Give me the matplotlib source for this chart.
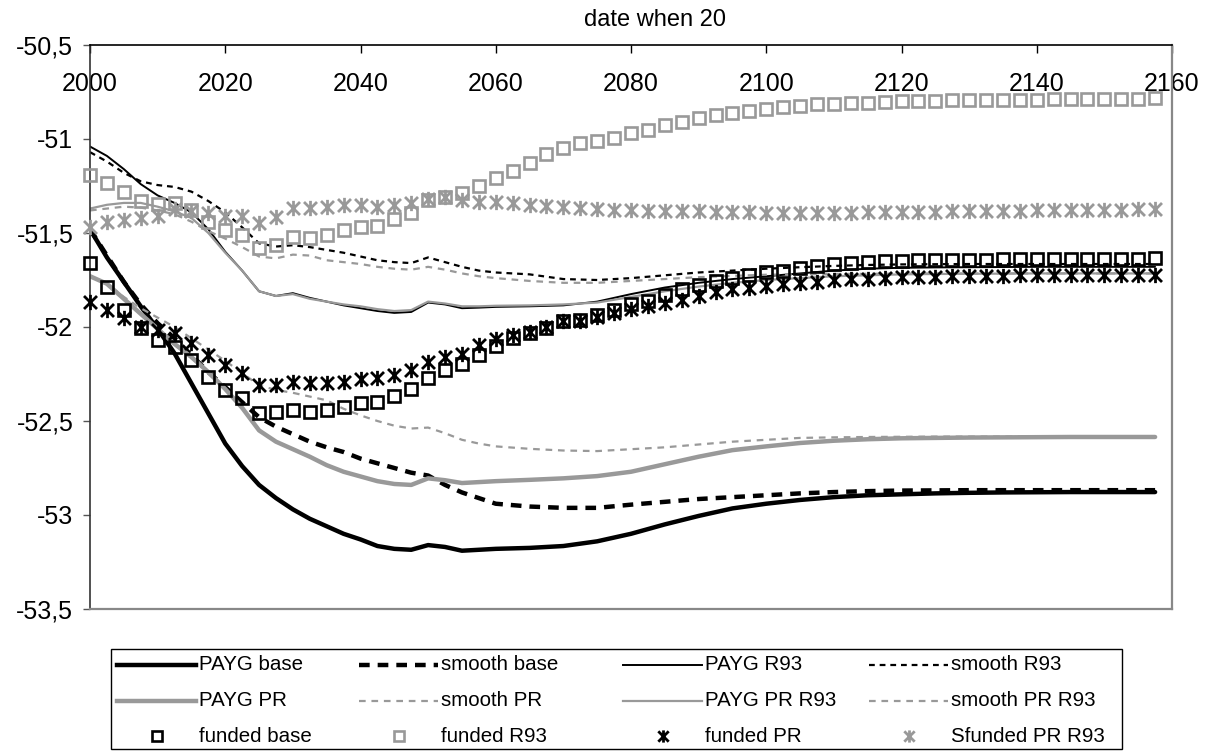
import numpy as np
import matplotlib
matplotlib.use("Agg")
import matplotlib.pyplot as plt
from matplotlib.path import Path
from matplotlib.lines import Line2D
from matplotlib.patches import Rectangle
from matplotlib.ticker import FuncFormatter

plt.rcParams['font.family'] = ['Liberation Sans', 'DejaVu Sans']

# ---------------- data ----------------
line_years = [2000, 2002.5, 2005, 2007.5, 2010, 2012.5, 2015, 2017.5,
              2020, 2022.5, 2025, 2027.5, 2030, 2032.5, 2035, 2037.5,
              2040, 2042.5, 2045, 2047.5, 2050, 2052.5, 2055, 2057.5,
              2060, 2065, 2070, 2075, 2080, 2085, 2090, 2095,
              2100, 2105, 2110, 2115, 2120, 2125, 2130, 2135,
              2140, 2145, 2150, 2155, 2157.5]

payg_base = [-51.48, -51.63, -51.76, -51.89, -52.01, -52.14, -52.30, -52.46,
             -52.62, -52.74, -52.84, -52.91, -52.97, -53.02, -53.06, -53.10,
             -53.13, -53.165, -53.18, -53.185, -53.16, -53.17, -53.19, -53.185,
             -53.18, -53.175, -53.165, -53.14, -53.10, -53.05, -53.005, -52.965,
             -52.94, -52.92, -52.905, -52.895, -52.89, -52.885, -52.882, -52.88,
             -52.879, -52.878, -52.878, -52.878, -52.878]
smooth_base = [-51.48, -51.62, -51.76, -51.88, -51.98, -52.06, -52.15, -52.24,
               -52.32, -52.40, -52.48, -52.53, -52.57, -52.61, -52.64, -52.665,
               -52.70, -52.725, -52.75, -52.775, -52.79, -52.84, -52.88, -52.91,
               -52.94, -52.955, -52.962, -52.962, -52.945, -52.93, -52.915, -52.905,
               -52.895, -52.885, -52.878, -52.873, -52.87, -52.869, -52.868, -52.868,
               -52.868, -52.868, -52.868, -52.868, -52.868]
payg_r93 = [-51.04, -51.09, -51.16, -51.24, -51.30, -51.34, -51.39, -51.48,
            -51.60, -51.70, -51.81, -51.835, -51.82, -51.845, -51.865, -51.885,
            -51.90, -51.915, -51.925, -51.92, -51.87, -51.88, -51.90, -51.897,
            -51.893, -51.89, -51.885, -51.865, -51.825, -51.79, -51.765, -51.745,
            -51.73, -51.715, -51.70, -51.69, -51.685, -51.683, -51.682, -51.681,
            -51.68, -51.68, -51.68, -51.68, -51.68]
smooth_r93 = [-51.07, -51.12, -51.18, -51.225, -51.245, -51.255, -51.28, -51.33,
              -51.39, -51.47, -51.555, -51.572, -51.565, -51.575, -51.59, -51.605,
              -51.625, -51.645, -51.655, -51.66, -51.63, -51.655, -51.68, -51.70,
              -51.71, -51.72, -51.745, -51.75, -51.74, -51.725, -51.71, -51.70,
              -51.69, -51.682, -51.675, -51.67, -51.667, -51.666, -51.665, -51.665,
              -51.665, -51.665, -51.665, -51.665, -51.665]
payg_pr = [-51.73, -51.77, -51.85, -51.93, -52.01, -52.09, -52.16, -52.24,
           -52.33, -52.43, -52.55, -52.61, -52.65, -52.69, -52.735, -52.77,
           -52.795, -52.82, -52.835, -52.84, -52.805, -52.815, -52.83, -52.825,
           -52.82, -52.813, -52.805, -52.793, -52.77, -52.73, -52.69, -52.655,
           -52.635, -52.617, -52.605, -52.597, -52.592, -52.59, -52.588, -52.587,
           -52.586, -52.585, -52.585, -52.585, -52.585]
smooth_pr = [-51.73, -51.77, -51.84, -51.90, -51.95, -52.00, -52.06, -52.12,
             -52.18, -52.245, -52.31, -52.335, -52.35, -52.37, -52.39, -52.435,
             -52.47, -52.50, -52.525, -52.54, -52.535, -52.565, -52.60, -52.62,
             -52.635, -52.648, -52.657, -52.66, -52.65, -52.64, -52.625, -52.61,
             -52.60, -52.59, -52.587, -52.585, -52.584, -52.583, -52.583, -52.583,
             -52.583, -52.583, -52.583, -52.583, -52.583]
payg_pr_r93 = [-51.37, -51.35, -51.34, -51.34, -51.36, -51.385, -51.42, -51.50,
               -51.605, -51.70, -51.81, -51.835, -51.825, -51.85, -51.865, -51.88,
               -51.89, -51.905, -51.915, -51.91, -51.865, -51.875, -51.89, -51.89,
               -51.887, -51.885, -51.88, -51.87, -51.84, -51.81, -51.785, -51.765,
               -51.75, -51.74, -51.73, -51.725, -51.72, -51.718, -51.717, -51.716,
               -51.715, -51.715, -51.715, -51.715, -51.715]
smooth_pr_r93 = [-51.38, -51.37, -51.36, -51.365, -51.38, -51.40, -51.44, -51.49,
                 -51.53, -51.575, -51.625, -51.635, -51.615, -51.62, -51.645, -51.655,
                 -51.665, -51.68, -51.69, -51.695, -51.68, -51.695, -51.715, -51.73,
                 -51.74, -51.755, -51.765, -51.765, -51.755, -51.745, -51.735, -51.728,
                 -51.722, -51.72, -51.718, -51.717, -51.716, -51.715, -51.715, -51.715,
                 -51.715, -51.715, -51.715, -51.715, -51.715]

marker_years = np.arange(2000, 2160, 2.5)

funded_base = [-51.66, -51.787, -51.91, -52.005,
               -52.07, -52.106, -52.175, -52.266,
               -52.335, -52.378, -52.457, -52.452,
               -52.441, -52.45, -52.441, -52.426,
               -52.406, -52.40, -52.365, -52.33,
               -52.27, -52.23, -52.197, -52.15,
               -52.10, -52.06, -52.03, -52.005,
               -51.97, -51.963, -51.936, -51.91,
               -51.88, -51.86, -51.83, -51.80,
               -51.775, -51.755, -51.74, -51.725,
               -51.71, -51.70, -51.685, -51.675,
               -51.665, -51.66, -51.655, -51.65,
               -51.648, -51.646, -51.645, -51.643,
               -51.642, -51.641, -51.64, -51.64,
               -51.639, -51.638, -51.638, -51.637,
               -51.637, -51.636, -51.636, -51.635]
funded_r93 = [-51.19, -51.235, -51.283, -51.33,
              -51.346, -51.34, -51.378, -51.44,
              -51.484, -51.51, -51.58, -51.564,
              -51.52, -51.527, -51.51, -51.484,
              -51.468, -51.463, -51.425, -51.395,
              -51.325, -51.31, -51.286, -51.25,
              -51.21, -51.17, -51.128, -51.08,
              -51.048, -51.02, -51.01, -50.995,
              -50.968, -50.952, -50.926, -50.91,
              -50.89, -50.872, -50.862, -50.852,
              -50.842, -50.832, -50.825, -50.815,
              -50.812, -50.81, -50.806, -50.803,
              -50.80, -50.797, -50.796, -50.795,
              -50.794, -50.793, -50.792, -50.791,
              -50.79, -50.789, -50.788, -50.787,
              -50.786, -50.785, -50.785, -50.784]
funded_pr = [-51.867, -51.91, -51.953, -52.0,
             -52.016, -52.03, -52.085, -52.15,
             -52.20, -52.245, -52.308, -52.308,
             -52.29, -52.30, -52.30, -52.29,
             -52.275, -52.272, -52.255, -52.23,
             -52.186, -52.16, -52.145, -52.096,
             -52.064, -52.04, -52.025, -51.998,
             -51.97, -51.968, -51.947, -51.926,
             -51.904, -51.89, -51.87, -51.855,
             -51.835, -51.815, -51.80, -51.79,
             -51.78, -51.772, -51.765, -51.758,
             -51.752, -51.747, -51.743, -51.74,
             -51.736, -51.734, -51.732, -51.73,
             -51.729, -51.728, -51.727, -51.726,
             -51.725, -51.725, -51.724, -51.724,
             -51.723, -51.723, -51.723, -51.723]
sfunded_pr_r93 = [-51.468, -51.44, -51.43, -51.42,
                  -51.41, -51.37, -51.383, -51.395,
                  -51.41, -51.41, -51.447, -51.414,
                  -51.367, -51.367, -51.36, -51.35,
                  -51.35, -51.36, -51.352, -51.34,
                  -51.32, -51.31, -51.325, -51.335,
                  -51.335, -51.34, -51.35, -51.355,
                  -51.36, -51.367, -51.372, -51.378,
                  -51.378, -51.383, -51.383, -51.385,
                  -51.385, -51.388, -51.388, -51.39,
                  -51.392, -51.393, -51.393, -51.393,
                  -51.392, -51.391, -51.39, -51.389,
                  -51.388, -51.387, -51.386, -51.385,
                  -51.384, -51.383, -51.382, -51.381,
                  -51.38, -51.379, -51.378, -51.377,
                  -51.376, -51.375, -51.374, -51.373]

x_ticks = [2000, 2020, 2040, 2060, 2080, 2100, 2120, 2140, 2160]
y_ticks = [-53.5, -53, -52.5, -52, -51.5, -51, -50.5]
title_text = "date when 20"

# ---------------- styles ----------------
GRAY = '#999999'
asterisk = Path([(0, -1), (0, 1), (-0.85, -0.85), (0.85, 0.85), (-0.85, 0.85), (0.85, -0.85)],
                [Path.MOVETO, Path.LINETO] * 3)

line_series = [
    ("PAYG base", payg_base, dict(color='black', lw=3.2, ls='-')),
    ("smooth base", smooth_base, dict(color='black', lw=3.2, ls=(0, (2.4, 1.8)))),
    ("PAYG R93", payg_r93, dict(color='black', lw=1.4, ls='-')),
    ("smooth R93", smooth_r93, dict(color='black', lw=1.6, ls=(0, (2.6, 2.2)))),
    ("PAYG PR", payg_pr, dict(color=GRAY, lw=3.2, ls='-')),
    ("smooth PR", smooth_pr, dict(color=GRAY, lw=1.6, ls=(0, (3.0, 2.6)))),
    ("PAYG PR R93", payg_pr_r93, dict(color=GRAY, lw=1.6, ls='-')),
    ("smooth PR R93", smooth_pr_r93, dict(color=GRAY, lw=1.6, ls=(0, (3.0, 2.6)))),
]
marker_series = [
    ("funded base", funded_base, dict(marker='s', color='black', ms=8.5, mew=1.9)),
    ("funded R93", funded_r93, dict(marker='s', color=GRAY, ms=8.5, mew=1.9)),
    ("funded PR", funded_pr, dict(marker=asterisk, color='black', ms=11, mew=2.0)),
    ("Sfunded PR R93", sfunded_pr_r93, dict(marker=asterisk, color=GRAY, ms=11, mew=2.0)),
]

W, H = 1215, 753
fig = plt.figure(figsize=(W / 100, H / 100), dpi=100)
ax = fig.add_axes([90 / W, 1 - 609 / H, (1172 - 90) / W, (609 - 45) / H])

for name, vals, st in line_series:
    ax.plot(line_years, vals, color=st['color'], lw=st['lw'], ls=st['ls'],
            solid_capstyle='round', solid_joinstyle='round', zorder=2)
for name, vals, st in marker_series:
    ax.plot(marker_years, vals, ls='none', marker=st['marker'], ms=st['ms'],
            mew=st['mew'], mec=st['color'], mfc='none', zorder=3, clip_on=False)

ax.set_xlim(2000, 2160)
ax.set_ylim(-53.5, -50.5)
ax.set_xticks(x_ticks)
ax.set_yticks(y_ticks)
ax.yaxis.set_major_formatter(FuncFormatter(lambda v, p: ('%g' % v).replace('.', ',')))
ax.xaxis.tick_top()
ax.tick_params(axis='x', direction='in', length=6, width=1, color='black',
               labelsize=18, pad=-37)
ax.tick_params(axis='y', direction='out', length=5, width=1, color='#555555',
               labelsize=18, pad=7)
ax.spines['top'].set_color('black')
ax.spines['top'].set_linewidth(1.2)
ax.spines['left'].set_color('#333333')
ax.spines['left'].set_linewidth(1.2)
for s in ('right', 'bottom'):
    ax.spines[s].set_color('#888888')
    ax.spines[s].set_linewidth(1.6)

fig.text(655 / W, 1 - 20 / H, title_text, ha='center', va='center', fontsize=17)

# ---------------- legend (4 columns x 3 rows) ----------------
fig.add_artist(Rectangle((111 / W, 1 - 749 / H), (1122 - 111) / W, (749 - 649) / H,
                         transform=fig.transFigure, fill=False, edgecolor='black', lw=1.0))
col_x = [117, 359, 623, 869]
row_y = [665, 701, 736]
handle_len = 79
entries = [
    [line_series[0], line_series[4], marker_series[0]],
    [line_series[1], line_series[5], marker_series[1]],
    [line_series[2], line_series[6], marker_series[2]],
    [line_series[3], line_series[7], marker_series[3]],
]
for ci, col in enumerate(entries):
    x0 = col_x[ci]
    for ri, (name, vals, st) in enumerate(col):
        yy = 1 - row_y[ri] / H
        if 'marker' in st:
            xc = x0 + handle_len / 2
            fig.add_artist(Line2D([xc / W], [yy], transform=fig.transFigure, ls='none',
                                  marker=st['marker'], ms=st['ms'] * 0.8, mew=st['mew'],
                                  mec=st['color'], mfc='none'))
        else:
            fig.add_artist(Line2D([x0 / W, (x0 + handle_len) / W], [yy, yy],
                                  transform=fig.transFigure, color=st['color'],
                                  lw=st['lw'], ls=st['ls']))
        fig.text((x0 + handle_len + 3) / W, yy, name, ha='left', va='center', fontsize=14.8)

fig.savefig("out.png", dpi=100)
